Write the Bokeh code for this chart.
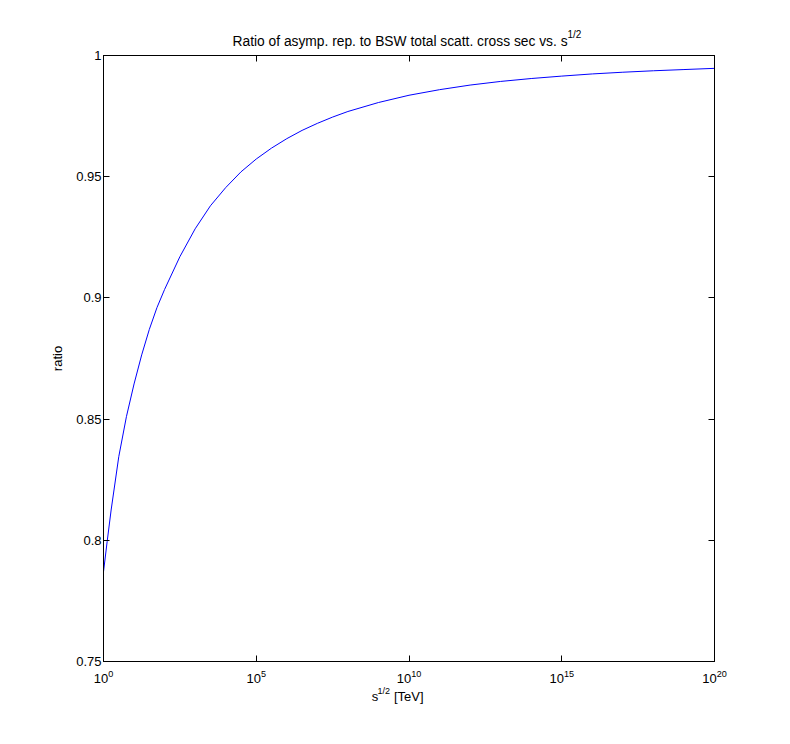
from bokeh.plotting import figure
from bokeh.models import FixedTicker, LinearAxis, LogAxis, Range1d, CustomJSTickFormatter, Title
from bokeh.embed import file_html
from bokeh.resources import INLINE

# ---- data ----
LOG10_S = [0, 0.12, 0.25, 0.5, 0.75, 1.0, 1.25, 1.5, 1.75, 2.0, 2.5, 3.0, 3.5, 4.0, 4.5,
           5.0, 5.5, 6.0, 6.5, 7.0, 7.5, 8.0, 9.0, 10, 11, 12, 13, 14, 15, 16, 17, 18, 19, 20]
RATIO = [0.787, 0.7995, 0.8125, 0.8345, 0.851, 0.8645, 0.8765, 0.887, 0.896, 0.9035, 0.917,
         0.9285, 0.938, 0.9455, 0.952, 0.9573, 0.9618, 0.9657, 0.9691, 0.972, 0.9746, 0.9769,
         0.9806, 0.9836, 0.9859, 0.9878, 0.9893, 0.9905, 0.9915, 0.9924, 0.9931, 0.9937,
         0.9942, 0.9947]

X_TICK_EXPONENTS = [0, 5, 10, 15, 20]
Y_TICKS = [0.75, 0.8, 0.85, 0.9, 0.95, 1.0]
Y_TICK_LABELS = ["0.75", "0.8", "0.85", "0.9", "0.95", "1"]

TITLE_MAIN = "Ratio of asymp. rep. to BSW total scatt. cross sec vs. s"
TITLE_SUP = "1/2"
XLABEL_MAIN = "s\u2002\u2002\u2009[TeV]"
XLABEL_SUP = "1/2"
YLABEL = "ratio"

FONT = "Liberation Sans"
LINE_COLOR = "#0000ff"

s_vals = [10.0 ** d for d in LOG10_S]
x_ticks = [10.0 ** e for e in X_TICK_EXPONENTS]

p = figure(width=780, height=730, x_axis_type="log",
           x_range=Range1d(x_ticks[0], x_ticks[-1]),
           y_range=Range1d(Y_TICKS[0], Y_TICKS[-1]),
           output_backend="svg", toolbar_location=None,
           min_border_left=103, min_border_right=66,
           min_border_top=55, min_border_bottom=69)
p.title = None

p.background_fill_color = "white"
p.border_fill_color = "white"
p.outline_line_color = "black"
p.outline_line_width = 1
p.grid.visible = False

p.line(s_vals, RATIO, line_color=LINE_COLOR, line_width=1)


def style_axis(ax):
    ax.axis_line_color = "black"
    ax.major_tick_line_color = "black"
    ax.major_tick_in = 6
    ax.major_tick_out = 0
    ax.minor_tick_line_color = None
    ax.major_label_text_font = FONT
    ax.major_label_text_font_size = "13px"
    ax.major_label_text_color = "black"
    ax.axis_label_text_font = FONT
    ax.axis_label_text_font_size = "13px"
    ax.axis_label_text_font_style = "normal"
    ax.axis_label_text_color = "black"


xa = p.xaxis[0]
xa.ticker = FixedTicker(ticks=x_ticks)
style_axis(xa)
xa.major_label_standoff = 8

ya = p.yaxis[0]
ya.ticker = FixedTicker(ticks=Y_TICKS)
ya.major_label_overrides = {t: l for t, l in zip(Y_TICKS, Y_TICK_LABELS)}
style_axis(ya)
ya.major_label_standoff = 2
ya.axis_label = YLABEL
ya.axis_label_standoff = 8

top = LogAxis(ticker=FixedTicker(ticks=x_ticks), formatter=CustomJSTickFormatter(code="return ''"))
style_axis(top)
top.major_label_standoff = 0
top.major_label_text_font_size = "0px"
p.add_layout(top, "above")
right = LinearAxis(ticker=FixedTicker(ticks=Y_TICKS), formatter=CustomJSTickFormatter(code="return ''"))
style_axis(right)
right.major_label_standoff = 0
right.major_label_text_font_size = "0px"
p.add_layout(right, "right")

# title with superscript: main row next to the frame, superscript row above it
p.add_layout(Title(text=TITLE_MAIN, align="left", offset=129, standoff=14,
                   text_font=FONT, text_font_size="13.8px", text_font_style="normal",
                   text_color="black"), "above")
p.add_layout(Title(text=TITLE_SUP, align="left", offset=464, standoff=-31,
                   text_font=FONT, text_font_size="10px", text_font_style="normal",
                   text_color="black"), "above")

# x-axis label with superscript (superscript row first, then the main row)
p.add_layout(Title(text=XLABEL_SUP, align="left", offset=274, standoff=-4,
                   text_font=FONT, text_font_size="9px", text_font_style="normal",
                   text_color="black"), "below")
p.add_layout(Title(text=XLABEL_MAIN, align="left", offset=268.3, standoff=-14,
                   text_font=FONT, text_font_size="13px", text_font_style="normal",
                   text_color="black"), "below")

open("out.html", "w").write(file_html(p, INLINE))
